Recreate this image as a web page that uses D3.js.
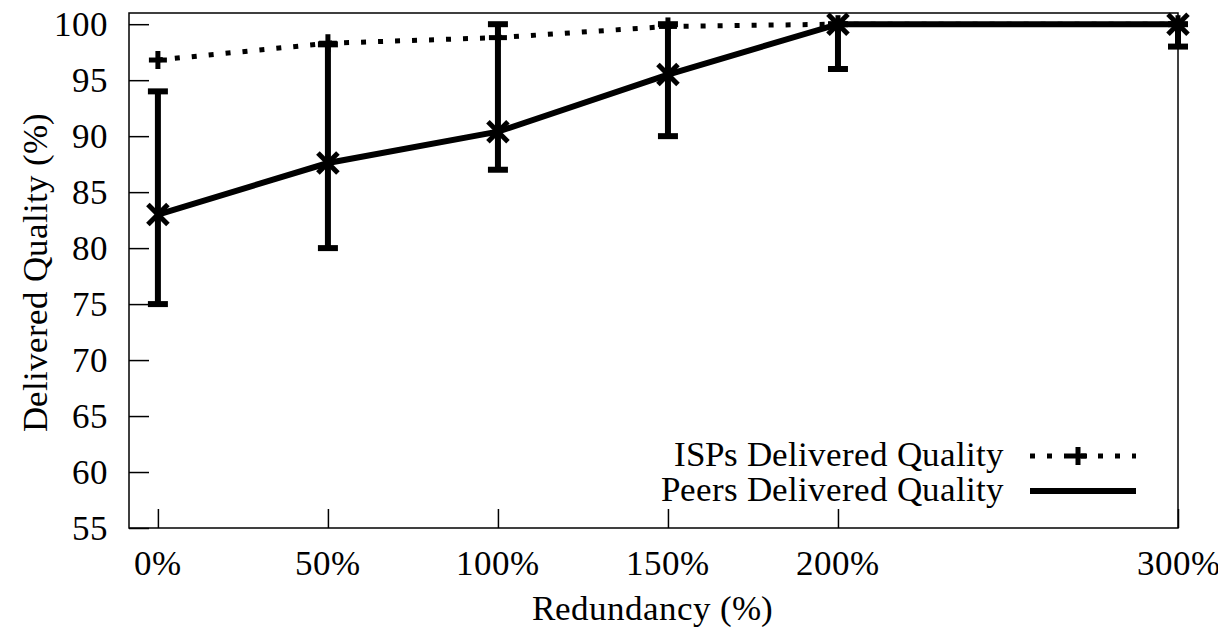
<!DOCTYPE html>
<html><head><meta charset="utf-8">
<script src="https://cdn.jsdelivr.net/npm/d3@7"></script>
<style>
@font-face { font-family: "GnuSerif"; src: local("Liberation Serif"), local("LiberationSerif"), local("Liberation Serif Regular"), local("LiberationSerif-Regular"); }
body{margin:0;background:#fff}
svg text{font-family:"GnuSerif","Liberation Serif",Tinos,"Times New Roman";}
</style>
</head><body>
<svg id="c" width="1218" height="628"></svg>
<script>
const redundancy = [0, 50, 100, 150, 200, 300];
const xTickLabels = ["0%", "50%", "100%", "150%", "200%", "300%"];
const yTicks = [55, 60, 65, 70, 75, 80, 85, 90, 95, 100];
const ispQuality = [96.8, 98.3, 98.8, 99.8, 100, 100];
const peerQuality = [83.0, 87.6, 90.4, 95.5, 100, 100];
const peerLow = [75, 80, 87, 90, 96, 98];
const peerHigh = [94, 98.2, 100, 100, 100, 100];
const seriesNames = ["ISPs Delivered Quality", "Peers Delivered Quality"];

const FS = 35;
const svg = d3.select("#c");
const L = 129, R = 1178, T = 13, B = 528;
const x = d3.scaleLinear().domain([-8.5, 300]).range([L, R]);
const y = d3.scaleLinear().domain([55, 101]).range([B, T]);

function txt(sel) { return sel.attr("font-size", FS).attr("fill", "#000"); }

// frame
svg.append("rect").attr("x", L).attr("y", T).attr("width", R - L).attr("height", B - T)
  .attr("fill", "none").attr("stroke", "#000").attr("stroke-width", 1.5);

// y axis (inward ticks)
const yAxis = d3.axisRight(y).tickValues(yTicks).tickSize(20).tickFormat("");
const gy = svg.append("g").attr("transform", `translate(${L},0)`).call(yAxis);
gy.select(".domain").remove();
gy.selectAll("text").remove();
gy.selectAll("line").attr("stroke-width", 1.5);

// x axis (inward ticks)
const xAxis = d3.axisTop(x).tickValues(redundancy).tickSize(19).tickFormat("");
const gx = svg.append("g").attr("transform", `translate(0,${B})`).call(xAxis);
gx.select(".domain").remove();
gx.selectAll("text").remove();
gx.selectAll("line").attr("stroke-width", 1.5);

const labels = svg.append("g");
txt(labels.selectAll("text.yl").data(yTicks).join("text").attr("class", "yl")
  .attr("x", 108).attr("y", d => y(d) + 12).attr("text-anchor", "end")).text(d => d);
txt(labels.selectAll("text.xl").data(redundancy).join("text").attr("class", "xl")
  .attr("x", d => x(d)).attr("y", 575).attr("text-anchor", "middle")).text((d, i) => xTickLabels[i]);

// titles
txt(svg.append("text").attr("x", 652).attr("y", 620).attr("text-anchor", "middle")).text("Redundancy (%)");
txt(svg.append("text").attr("transform", "translate(47,272) rotate(-90)").attr("text-anchor", "middle"))
  .text("Delivered Quality (%)");

// error bars
const eb = svg.append("g").attr("stroke", "#000").attr("stroke-width", 6);
redundancy.forEach((r, i) => {
  eb.append("line").attr("x1", x(r)).attr("x2", x(r)).attr("y1", y(peerLow[i])).attr("y2", y(peerHigh[i]));
  eb.append("line").attr("x1", x(r) - 10).attr("x2", x(r) + 10).attr("y1", y(peerLow[i])).attr("y2", y(peerLow[i]));
  eb.append("line").attr("x1", x(r) - 10).attr("x2", x(r) + 10).attr("y1", y(peerHigh[i])).attr("y2", y(peerHigh[i]));
});

// ISP dotted line
const line = d3.line().x(d => x(d[0])).y(d => y(d[1]));
svg.append("path").datum(redundancy.map((r, i) => [r, ispQuality[i]]))
  .attr("d", line).attr("fill", "none").attr("stroke", "#000")
  .attr("stroke-width", 5).attr("stroke-dasharray", "5 12");
function plus(g, cx, cy) {
  g.append("line").attr("x1", cx - 9).attr("x2", cx + 9).attr("y1", cy).attr("y2", cy);
  g.append("line").attr("x1", cx).attr("x2", cx).attr("y1", cy - 9).attr("y2", cy + 9);
}
const pm = svg.append("g").attr("stroke", "#000").attr("stroke-width", 5);
redundancy.forEach((r, i) => plus(pm, x(r), y(ispQuality[i])));

// Peers solid line
svg.append("path").datum(redundancy.map((r, i) => [r, peerQuality[i]]))
  .attr("d", line).attr("fill", "none").attr("stroke", "#000").attr("stroke-width", 6);
function cross(g, cx, cy) {
  g.append("line").attr("x1", cx - 10).attr("x2", cx + 10).attr("y1", cy - 10).attr("y2", cy + 10);
  g.append("line").attr("x1", cx - 10).attr("x2", cx + 10).attr("y1", cy + 10).attr("y2", cy - 10);
}
const xm = svg.append("g").attr("stroke", "#000").attr("stroke-width", 5);
redundancy.forEach((r, i) => cross(xm, x(r), y(peerQuality[i])));

// legend
const lg = svg.append("g");
txt(lg.append("text").attr("x", 1004).attr("y", 466).attr("text-anchor", "end")).text(seriesNames[0]);
txt(lg.append("text").attr("x", 1004).attr("y", 501).attr("text-anchor", "end")).text(seriesNames[1]);
lg.append("line").attr("x1", 1030).attr("x2", 1136).attr("y1", 456).attr("y2", 456)
  .attr("stroke", "#000").attr("stroke-width", 5).attr("stroke-dasharray", "5 12");
plus(lg.append("g").attr("stroke", "#000").attr("stroke-width", 5), 1078, 456);
lg.append("line").attr("x1", 1030).attr("x2", 1136).attr("y1", 491).attr("y2", 491)
  .attr("stroke", "#000").attr("stroke-width", 6);
</script>
</body></html>
